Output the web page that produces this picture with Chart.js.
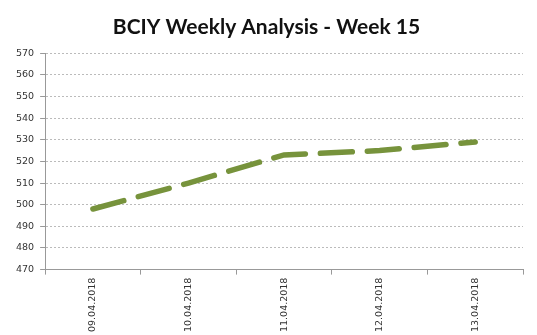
<!DOCTYPE html>
<html>
<head>
<meta charset="utf-8">
<script src="https://cdn.jsdelivr.net/npm/chart.js@4"></script>
<style>
  html, body { margin: 0; padding: 0; background: #fff; }
  #wrap { width: 537px; height: 335px; position: relative; }
</style>
</head>
<body>
<div id="wrap"><canvas id="mainChart"></canvas></div>
<script>
// BCIY weekly chart, week 15
const dates = ["09.04.2018", "10.04.2018", "11.04.2018", "12.04.2018", "13.04.2018"];
const bciyValues = [498, 510, 523, 525, 529];
const yMin = 470, yMax = 570, yStep = 10;

const lineColor = "#77933c";
const tickFont = { family: "DejaVu Sans", size: 9.5 };

new Chart(document.getElementById("mainChart"), {
  type: 'line',
  data: {
    labels: dates,
    datasets: [{
      label: "BCIY",
      data: bciyValues,
      borderColor: lineColor,
      backgroundColor: lineColor,
      borderWidth: 5.5,
      borderDash: [32, 15],
      borderCapStyle: 'round',
      pointRadius: 0,
      tension: 0,
      fill: false
    }]
  },
  options: {
    responsive: true,
    maintainAspectRatio: false,
    animation: false,
    layout: { padding: { left: 10, right: 14, top: 4, bottom: 0 } },
    plugins: {
      legend: { display: false },
      tooltip: { enabled: false },
      title: {
        display: true,
        text: "BCIY Weekly Analysis - Week 15",
        color: "#111",
        font: { family: "Lato", size: 21, weight: 'bold' },
        padding: { top: 11, bottom: 13 }
      }
    },
    scales: {
      x: {
        offset: true,
        grid: { drawOnChartArea: false, offset: true, tickLength: 5, color: "#999" },
        border: { color: "#999" },
        ticks: { color: "#333", font: tickFont, maxRotation: 90, minRotation: 90, padding: 3 }
      },
      y: {
        min: yMin, max: yMax,
        grid: { color: "#bbb", tickLength: 5, tickColor: "#999" },
        border: { color: "#999", dash: [2, 2] },
        ticks: { stepSize: yStep, color: "#333", font: tickFont, padding: 6 }
      }
    }
  }
});
</script>
</body>
</html>
